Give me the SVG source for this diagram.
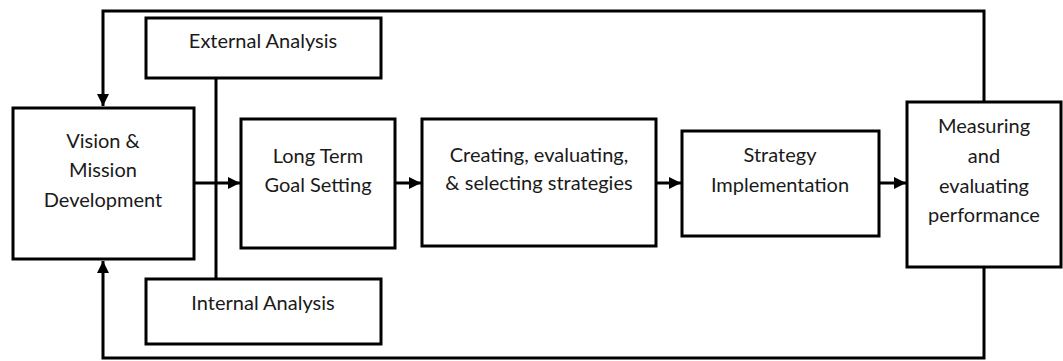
<svg xmlns="http://www.w3.org/2000/svg" width="1063" height="361" viewBox="0 0 1063 361">
<style>
.box{fill:#fff;stroke:#000;stroke-width:3}
.ln{fill:none;stroke:#000;stroke-width:3}
text{font-family:Lato,"Open Sans",sans-serif;font-size:20px;fill:#1a1a1a;text-anchor:middle}
</style>
<defs>
<marker id="ah" markerWidth="12" markerHeight="12" viewBox="0 0 12 12" refX="12" refY="6" orient="auto" markerUnits="userSpaceOnUse">
<path d="M0,0 L12,6 L0,12 Z" fill="#000"/>
</marker>
</defs>
<rect width="1063" height="361" fill="#fff"/>
<g id="connectors">
<path class="ln" d="M984,102 V11 H103 V106" marker-end="url(#ah)"/>
<path class="ln" d="M984,267 V358 H103 V261" marker-end="url(#ah)"/>
<path class="ln" d="M216,78 V279"/>
<path class="ln" d="M194,183 H240" marker-end="url(#ah)"/>
<path class="ln" d="M395,183 H421" marker-end="url(#ah)"/>
<path class="ln" d="M656,183 H681" marker-end="url(#ah)"/>
<path class="ln" d="M879,183 H906" marker-end="url(#ah)"/>
</g>
<g id="external">
<rect class="box" x="146" y="18" width="235" height="60"/>
<text x="263" y="48">External Analysis</text>
</g>
<g id="internal">
<rect class="box" x="146" y="279" width="235" height="65"/>
<text x="263" y="310">Internal Analysis</text>
</g>
<g id="vision">
<rect class="box" x="13" y="108" width="181" height="151"/>
<text x="103" y="148">Vision &amp;</text>
<text x="103" y="177">Mission</text>
<text x="103" y="207">Development</text>
</g>
<g id="longterm">
<rect class="box" x="241" y="119" width="154" height="129"/>
<text x="318" y="163">Long Term</text>
<text x="318" y="192">Goal Setting</text>
</g>
<g id="creating">
<rect class="box" x="422" y="119" width="234" height="127"/>
<text x="539" y="162">Creating, evaluating,</text>
<text x="539" y="190">&amp; selecting strategies</text>
</g>
<g id="implementation">
<rect class="box" x="682" y="131" width="197" height="105"/>
<text x="780" y="162">Strategy</text>
<text x="780" y="192">Implementation</text>
</g>
<g id="measuring">
<rect class="box" x="907" y="102" width="154" height="165"/>
<text x="984" y="133">Measuring</text>
<text x="984" y="163">and</text>
<text x="984" y="193">evaluating</text>
<text x="984" y="222">performance</text>
</g>
</svg>
